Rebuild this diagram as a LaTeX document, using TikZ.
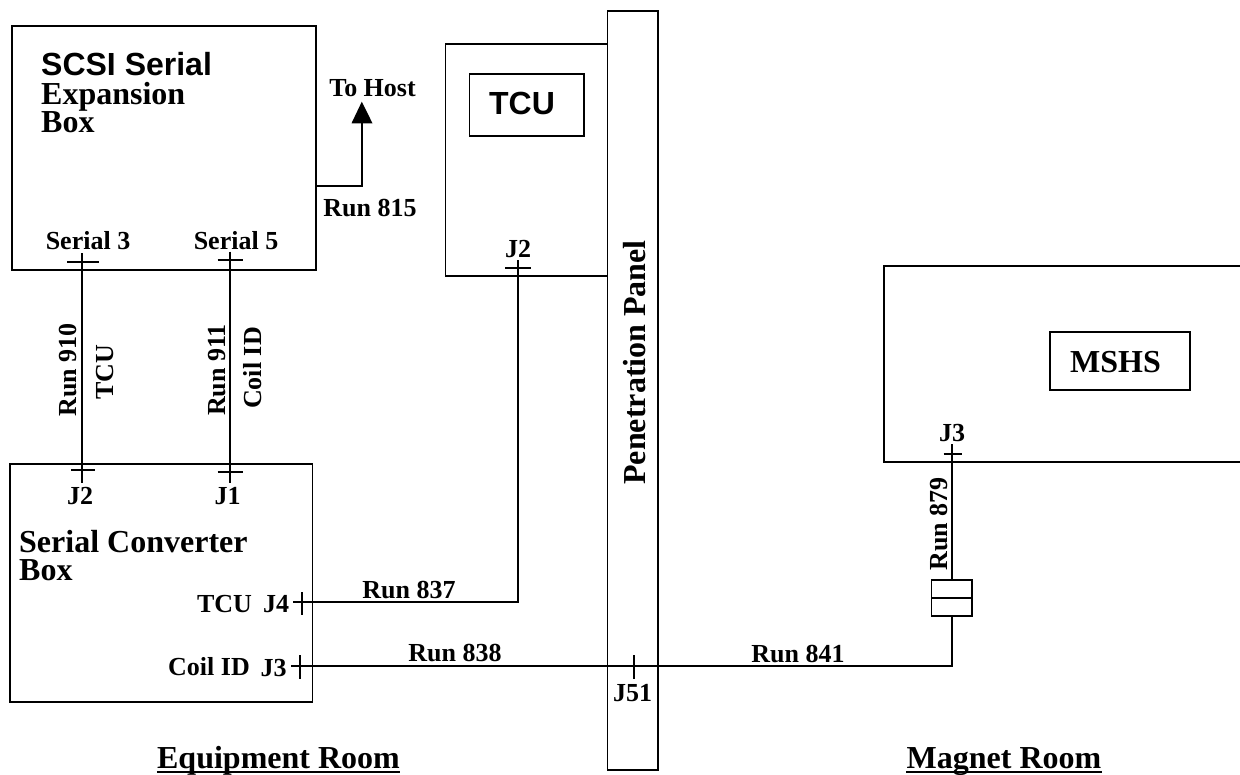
\documentclass[tikz,border=0pt]{standalone}
\usepackage{fontspec}
\setmainfont{Liberation Serif}
\newfontfamily\hv{Liberation Sans}
\tikzset{
 wire/.style={draw=black,line width=1.7pt},
 lab/.style={inner sep=0pt,font=\bfseries\fontsize{26}{26}\selectfont},
 vlab/.style={lab,rotate=90,anchor=base},
 big/.style={inner sep=0pt,font=\bfseries\fontsize{32}{32}\selectfont},
 sans/.style={inner sep=0pt,font=\hv\bfseries\fontsize{32}{32}\selectfont},
 rulebar/.style={draw=black,line width=2.6pt},
}
\begin{document}
\begin{tikzpicture}[x=1pt,y=-1pt]
\useasboundingbox (0,0) rectangle (1240,774);
% boxes
\draw[wire] (12,25.7) rectangle (316.3,270);
\draw[wire] (608,44) -- (445.6,44) -- (445.6,276) -- (608,276);
\draw[wire] (607.6,10.7) rectangle (658.2,769.7);
\draw[wire] (469.4,74) rectangle (584,136);
\draw[wire] (1240,266) -- (884,266) -- (884,462.3) -- (1240,462.3);
\draw[wire] (1050,332) rectangle (1190,390);
\draw[wire] (10,464) rectangle (312.4,702);
% text
\node[sans,anchor=base west] at (41,75.3) {SCSI Serial};
\node[big,anchor=base west] at (41,104) {Expansion};
\node[big,anchor=base west] at (41,132.7) {Box};
\node[lab,anchor=base] at (372.5,96.7) {To Host};
\node[sans,anchor=base] at (522,114) {TCU};
\node[lab,anchor=base] at (370,216.7) {Run 815};
\node[lab,anchor=base] at (88,249) {Serial 3};
\node[lab,anchor=base] at (236,249) {Serial 5};
\node[lab,anchor=base] at (518,257) {J2};
\node[big,rotate=90,anchor=base] at (645,362.4) {Penetration Panel};
\node[big,anchor=base] at (1115.5,372) {MSHS};
\node[lab,anchor=base] at (952,441) {J3};
\node[vlab] at (76,370) {Run 910};
\node[vlab] at (113,372.5) {TCU};
\node[vlab] at (225,370) {Run 911};
\node[vlab] at (261,368) {Coil ID};
\node[vlab] at (947.4,524) {Run 879};
\node[lab,anchor=base] at (80,504) {J2};
\node[lab,anchor=base] at (227.5,504) {J1};
\node[big,anchor=base west] at (19,552.7) {Serial Converter};
\node[big,anchor=base west] at (19,580) {Box};
\node[lab,anchor=base] at (224.5,612.7) {TCU};
\node[lab,anchor=base] at (276,612) {J4};
\node[lab,anchor=base] at (409,598.7) {Run 837};
\node[lab,anchor=base] at (209,675.7) {Coil ID};
\node[lab,anchor=base] at (273.5,676) {J3};
\node[lab,anchor=base] at (455,661) {Run 838};
\node[lab,anchor=base] at (798,662.7) {Run 841};
\node[lab,anchor=base] at (632.5,701) {J51};
\node[big,anchor=base] (er) at (278.5,768) {Equipment Room};
\node[big,anchor=base] (mr) at (1004,768) {Magnet Room};
\draw[rulebar] ([yshift=-4pt]er.base west) -- ([yshift=-4pt]er.base east);
\draw[rulebar] ([yshift=-4pt]mr.base west) -- ([yshift=-4pt]mr.base east);
% connectors
\coordinate (a1) at (82,253); \coordinate (a2) at (82,482.7);
\coordinate (b1) at (229.7,251.7); \coordinate (b2) at (229.7,482.7);
\draw[wire] (a1) -- (a2);
\draw[wire] (b1) -- (b2);
\draw[wire] (67,262) -- (98.5,262);
\draw[wire] (71,470) -- (95,470);
\draw[wire] (217.5,260) -- (243,260);
\draw[wire] (217.5,472) -- (243,472);
\coordinate (c1) at (518,260); \coordinate (c2) at (293.4,602);
\draw[wire] (c1) -- (518,602) -- (c2);
\draw[wire] (505,267.7) -- (531,267.7);
\draw[wire] (302,592) -- (302,614.7);
\coordinate (d1) at (291.4,666); \coordinate (d2) at (951.7,616.3);
\draw[wire] (d1) -- (951.7,666) -- (d2);
\draw[wire] (300,655) -- (300,678.7);
\draw[wire] (634,655) -- (634,678.7);
\draw[wire] (931.6,579.7) rectangle (972.3,616.3);
\draw[wire] (931.6,598) -- (972.3,598);
\coordinate (e1) at (951.7,444.3); \coordinate (e2) at (951.7,579.7);
\draw[wire] (e1) -- (e2);
\draw[wire] (943.5,454) -- (962.4,454);
\coordinate (f1) at (316.3,185.7); \coordinate (f2) at (362,122);
\draw[wire] (f1) -- (362,185.7) -- (f2);
\fill (361.8,101.7) -- (372.5,123.3) -- (351.5,123.3) -- cycle;
\end{tikzpicture}
\end{document}
